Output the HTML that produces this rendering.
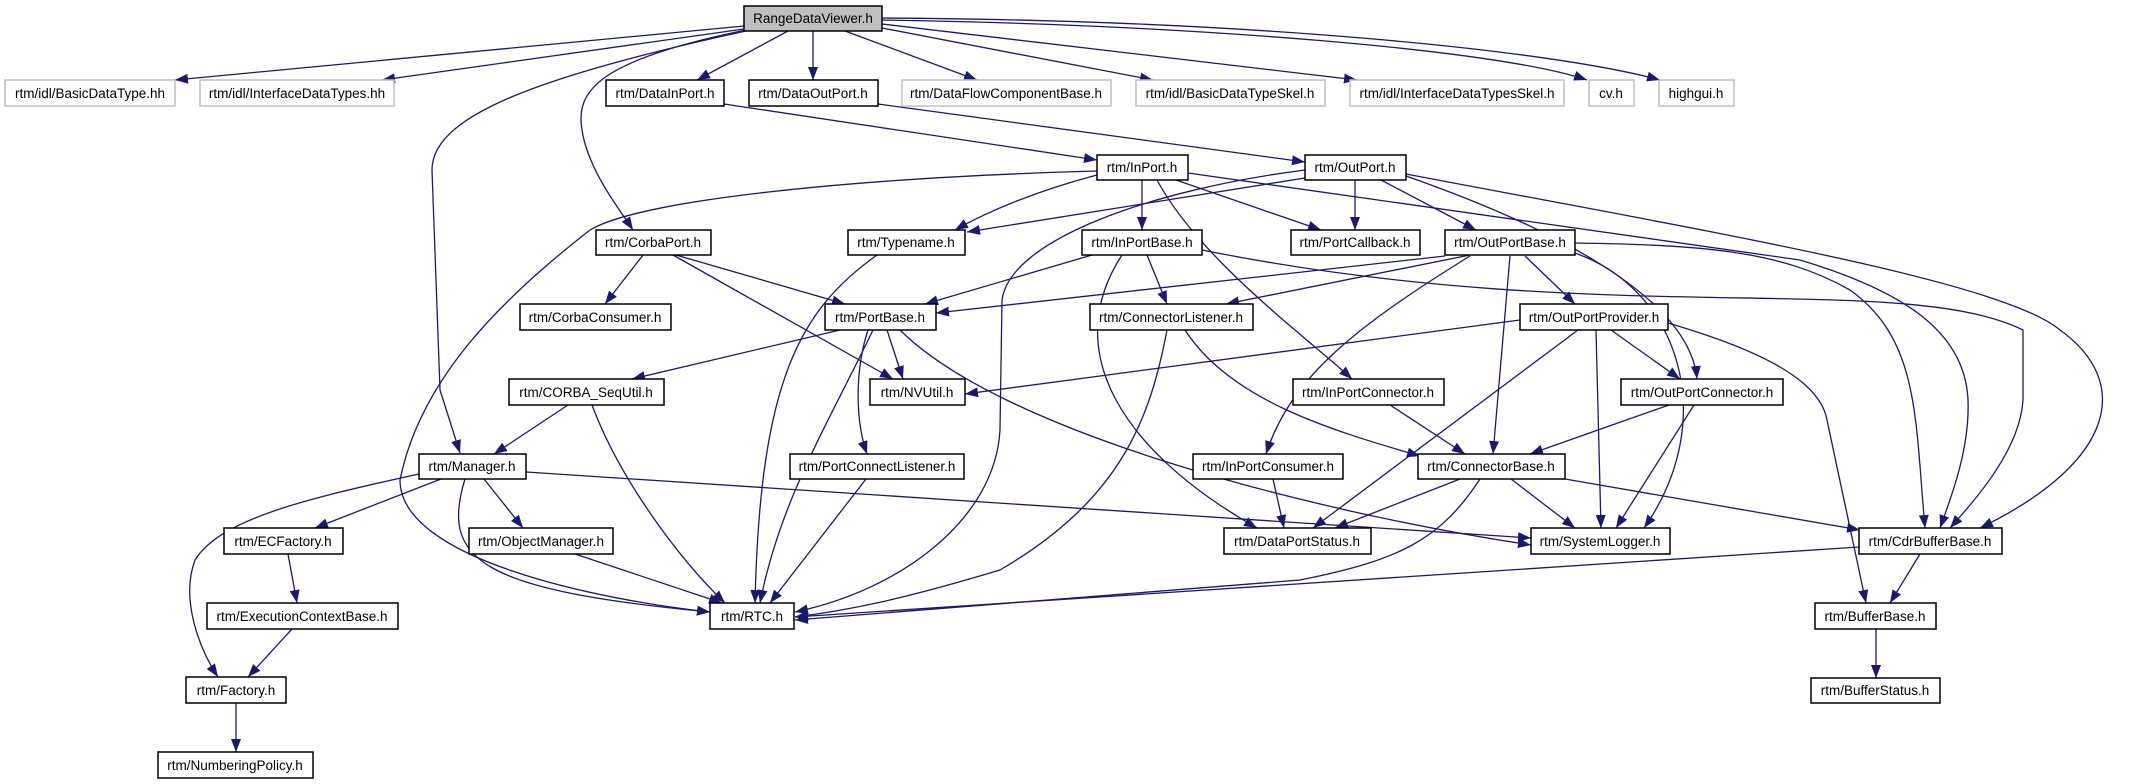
<!DOCTYPE html>
<html><head><meta charset="utf-8"><style>
html,body{margin:0;padding:0;background:#fff;}
svg{display:block;}
text{font-family:"Liberation Sans",sans-serif;font-size:13.5px;fill:#000;}
.n{fill:#fff;stroke:#000;stroke-width:1.5;}
.g{fill:#fff;stroke:#bfbfbf;stroke-width:1.5;}
.e{fill:none;stroke:#191970;stroke-width:1.3;marker-end:url(#a);}
</style></head><body>
<svg width="2131" height="784" viewBox="0 0 2131 784" xmlns="http://www.w3.org/2000/svg">
<defs><marker id="a" markerUnits="userSpaceOnUse" markerWidth="14" markerHeight="10" refX="13" refY="5" orient="auto"><path d="M0,0 L13,5 L0,10 Z" fill="#191970"/></marker></defs>
<g>
<path class="e" d="M744,26 L175,80"/>
<path class="e" d="M744,29 L382,80"/>
<path class="e" d="M788,31 L697,80"/>
<path class="e" d="M813,31 L813,80"/>
<path class="e" d="M845,31 L977,80"/>
<path class="e" d="M882,28 L1153,80"/>
<path class="e" d="M882,24 L1357,80"/>
<path class="e" d="M882,20 C1200,25 1500,50 1587,80"/>
<path class="e" d="M882,18 C1250,20 1550,50 1660,80"/>
<path class="e" d="M746,30 C600,60 575,90 582,130 C588,170 620,210 633,230"/>
<path class="e" d="M746,31 C520,80 432,120 432,170 L440,390 L460,453"/>
<path class="e" d="M724,104 L1097,160"/>
<path class="e" d="M878,104 L1305,162"/>
<path class="e" d="M1097,175 C1040,190 990,210 955,230"/>
<path class="e" d="M1305,178 L967,232"/>
<path class="e" d="M1142,180 L1142,230"/>
<path class="e" d="M1176,180 L1321,230"/>
<path class="e" d="M1355,180 L1355,230"/>
<path class="e" d="M1381,180 L1476,230"/>
<path class="e" d="M1157,180 C1200,260 1310,340 1352,379"/>
<path class="e" d="M1406,176 C1560,230 1690,300 1697,379"/>
<path class="e" d="M1097,171 C850,178 640,200 590,230 C500,300 420,380 400,480 C400,560 600,600 710,612"/>
<path class="e" d="M1305,170 C1150,190 1010,240 1002,300 L1000,430 C995,520 900,590 795,612"/>
<path class="e" d="M1188,173 L1800,260 C1900,290 1965,330 1968,400 C1970,450 1950,500 1940,528"/>
<path class="e" d="M1406,174 C1700,230 2000,280 2060,330 C2130,380 2120,460 1980,528"/>
<path class="e" d="M1575,243 C1700,245 1780,250 1850,290 C1920,340 1915,420 1925,528"/>
<path class="e" d="M1202,250 C1600,330 1900,270 2023,330 L2023,400 C2020,450 1975,500 1950,528"/>
<path class="e" d="M643,255 L605,304"/>
<path class="e" d="M676,255 L845,304"/>
<path class="e" d="M673,255 L893,379"/>
<path class="e" d="M877,255 C800,310 760,380 755,603"/>
<path class="e" d="M1092,255 L925,304"/>
<path class="e" d="M1445,256 L936,313"/>
<path class="e" d="M1147,255 L1167,304"/>
<path class="e" d="M1470,255 L1226,304"/>
<path class="e" d="M1122,255 C1060,350 1120,450 1257,528"/>
<path class="e" d="M1470,256 C1350,330 1290,380 1266,454"/>
<path class="e" d="M1510,256 L1493,454"/>
<path class="e" d="M1525,256 L1575,304"/>
<path class="e" d="M1575,253 C1680,290 1720,420 1644,528"/>
<path class="e" d="M840,330 L632,379"/>
<path class="e" d="M887,330 L903,379"/>
<path class="e" d="M868,330 C855,370 855,420 867,454"/>
<path class="e" d="M873,330 C830,420 780,500 760,603"/>
<path class="e" d="M900,330 C1000,430 1300,510 1531,545"/>
<path class="e" d="M1185,330 C1230,400 1330,430 1420,456"/>
<path class="e" d="M1167,330 C1150,420 1120,500 1000,570 C900,600 850,610 795,617"/>
<path class="e" d="M1520,320 L965,394"/>
<path class="e" d="M1611,330 L1680,379"/>
<path class="e" d="M1596,330 L1601,528"/>
<path class="e" d="M1578,330 L1313,528"/>
<path class="e" d="M1668,323 C1760,350 1820,380 1827,420 L1866,603"/>
<path class="e" d="M568,405 L494,454"/>
<path class="e" d="M592,405 C620,480 680,560 725,603"/>
<path class="e" d="M1390,405 L1465,454"/>
<path class="e" d="M1669,405 L1530,454"/>
<path class="e" d="M1694,405 L1616,528"/>
<path class="e" d="M441,479 L315,528"/>
<path class="e" d="M484,479 L523,528"/>
<path class="e" d="M465,479 C440,560 480,590 710,612"/>
<path class="e" d="M419,474 C300,500 220,520 195,560 C180,600 200,650 218,677"/>
<path class="e" d="M526,472 L1531,538"/>
<path class="e" d="M866,479 L770,603"/>
<path class="e" d="M1273,479 L1284,528"/>
<path class="e" d="M1460,479 L1335,528"/>
<path class="e" d="M1511,479 L1575,528"/>
<path class="e" d="M1565,479 L1860,530"/>
<path class="e" d="M1480,479 C1440,540 1400,560 1300,580 L795,620"/>
<path class="e" d="M1859,547 L795,617"/>
<path class="e" d="M1920,554 L1890,603"/>
<path class="e" d="M1876,629 L1876,678"/>
<path class="e" d="M288,554 L297,603"/>
<path class="e" d="M292,629 L248,677"/>
<path class="e" d="M575,554 L722,603"/>
<path class="e" d="M236,703 L236,752"/>
</g>
<g text-anchor="middle">
<rect x="744" y="6" width="138" height="25" fill="#bfbfbf" stroke="#000" stroke-width="1.5"/><text x="813" y="23">RangeDataViewer.h</text>
<rect class="g" x="5" y="80" width="170" height="26"/><text x="90" y="98">rtm/idl/BasicDataType.hh</text>
<rect class="g" x="200" y="80" width="194" height="26"/><text x="297" y="98">rtm/idl/InterfaceDataTypes.hh</text>
<rect class="n" x="606" y="80" width="118" height="26"/><text x="665" y="98">rtm/DataInPort.h</text>
<rect class="n" x="749" y="80" width="129" height="26"/><text x="813" y="98">rtm/DataOutPort.h</text>
<rect class="g" x="902" y="80" width="209" height="26"/><text x="1006" y="98">rtm/DataFlowComponentBase.h</text>
<rect class="g" x="1136" y="80" width="189" height="26"/><text x="1230" y="98">rtm/idl/BasicDataTypeSkel.h</text>
<rect class="g" x="1350" y="80" width="214" height="26"/><text x="1457" y="98">rtm/idl/InterfaceDataTypesSkel.h</text>
<rect class="g" x="1589" y="80" width="45" height="26"/><text x="1611" y="98">cv.h</text>
<rect class="g" x="1659" y="80" width="75" height="26"/><text x="1696" y="98">highgui.h</text>
<rect class="n" x="1097" y="155" width="91" height="25"/><text x="1142" y="172">rtm/InPort.h</text>
<rect class="n" x="1305" y="155" width="101" height="25"/><text x="1355" y="172">rtm/OutPort.h</text>
<rect class="n" x="596" y="230" width="115" height="25"/><text x="653" y="247">rtm/CorbaPort.h</text>
<rect class="n" x="848" y="230" width="117" height="25"/><text x="906" y="247">rtm/Typename.h</text>
<rect class="n" x="1082" y="230" width="120" height="25"/><text x="1142" y="247">rtm/InPortBase.h</text>
<rect class="n" x="1291" y="230" width="129" height="25"/><text x="1355" y="247">rtm/PortCallback.h</text>
<rect class="n" x="1445" y="230" width="130" height="25"/><text x="1510" y="247">rtm/OutPortBase.h</text>
<rect class="n" x="520" y="304" width="151" height="26"/><text x="595" y="322">rtm/CorbaConsumer.h</text>
<rect class="n" x="825" y="304" width="111" height="26"/><text x="880" y="322">rtm/PortBase.h</text>
<rect class="n" x="1090" y="304" width="163" height="26"/><text x="1171" y="322">rtm/ConnectorListener.h</text>
<rect class="n" x="1520" y="304" width="148" height="26"/><text x="1594" y="322">rtm/OutPortProvider.h</text>
<rect class="n" x="509" y="379" width="155" height="26"/><text x="586" y="397">rtm/CORBA_SeqUtil.h</text>
<rect class="n" x="870" y="379" width="95" height="26"/><text x="917" y="397">rtm/NVUtil.h</text>
<rect class="n" x="1293" y="379" width="151" height="26"/><text x="1368" y="397">rtm/InPortConnector.h</text>
<rect class="n" x="1621" y="379" width="162" height="26"/><text x="1702" y="397">rtm/OutPortConnector.h</text>
<rect class="n" x="419" y="454" width="107" height="25"/><text x="472" y="471">rtm/Manager.h</text>
<rect class="n" x="790" y="454" width="174" height="25"/><text x="877" y="471">rtm/PortConnectListener.h</text>
<rect class="n" x="1193" y="454" width="150" height="25"/><text x="1268" y="471">rtm/InPortConsumer.h</text>
<rect class="n" x="1418" y="454" width="147" height="25"/><text x="1491" y="471">rtm/ConnectorBase.h</text>
<rect class="n" x="224" y="528" width="119" height="26"/><text x="283" y="546">rtm/ECFactory.h</text>
<rect class="n" x="469" y="528" width="144" height="26"/><text x="541" y="546">rtm/ObjectManager.h</text>
<rect class="n" x="1224" y="528" width="147" height="26"/><text x="1297" y="546">rtm/DataPortStatus.h</text>
<rect class="n" x="1531" y="528" width="139" height="26"/><text x="1600" y="546">rtm/SystemLogger.h</text>
<rect class="n" x="1859" y="528" width="143" height="26"/><text x="1930" y="546">rtm/CdrBufferBase.h</text>
<rect class="n" x="207" y="603" width="191" height="26"/><text x="302" y="621">rtm/ExecutionContextBase.h</text>
<rect class="n" x="710" y="603" width="84" height="26"/><text x="752" y="621">rtm/RTC.h</text>
<rect class="n" x="1815" y="603" width="121" height="26"/><text x="1875" y="621">rtm/BufferBase.h</text>
<rect class="n" x="186" y="677" width="100" height="26"/><text x="236" y="695">rtm/Factory.h</text>
<rect class="n" x="1811" y="678" width="129" height="25"/><text x="1875" y="695">rtm/BufferStatus.h</text>
<rect class="n" x="158" y="752" width="155" height="26"/><text x="235" y="770">rtm/NumberingPolicy.h</text>
</g>
</svg>
</body></html>
